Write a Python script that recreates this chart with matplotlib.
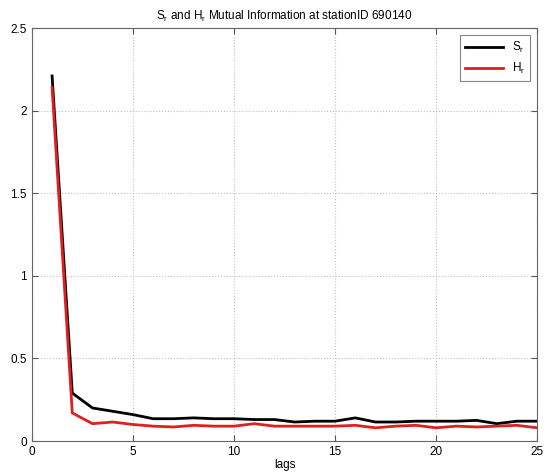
import matplotlib
matplotlib.use("Agg")
import matplotlib.pyplot as plt

plt.rcParams['font.family'] = ['Liberation Sans', 'DejaVu Sans']
plt.rcParams['mathtext.fontset'] = 'custom'
plt.rcParams['mathtext.rm'] = 'Liberation Sans'
plt.rcParams['mathtext.it'] = 'Liberation Sans'

lags = list(range(1, 26))
s_r = [2.21, 0.29, 0.20, 0.18, 0.16, 0.135, 0.135, 0.14, 0.135, 0.135, 0.13, 0.13,
       0.115, 0.12, 0.12, 0.14, 0.115, 0.115, 0.12, 0.12, 0.12, 0.125, 0.105, 0.12, 0.12]
h_r = [2.14, 0.17, 0.105, 0.115, 0.10, 0.09, 0.085, 0.095, 0.09, 0.09, 0.105, 0.09,
       0.09, 0.09, 0.09, 0.095, 0.08, 0.09, 0.095, 0.08, 0.09, 0.085, 0.09, 0.095, 0.08]

fig = plt.figure(figsize=(5.59, 4.76), dpi=100)
ax = fig.add_axes([0.057, 0.0735, 0.904, 0.8675])

ax.plot(lags, s_r, color='black', lw=2.0, label='S$_r$')
ax.plot(lags, h_r, color='#e02020', lw=2.0, label='H$_r$')

ax.set_xlim(0, 25)
ax.set_ylim(0, 2.5)
ax.set_xticks([0, 5, 10, 15, 20, 25])
ax.set_yticks([0, 0.5, 1, 1.5, 2, 2.5])
ax.set_yticklabels(['0', '0.5', '1', '1.5', '2', '2.5'])
ax.grid(True, color='#c0c0c0', ls=':', lw=0.8)
ax.tick_params(direction='in', labelsize=8.5, length=4, top=True, right=True, color='#555555')
for sp in ax.spines.values():
    sp.set_color('#666666')

ax.set_xlabel('lags', fontsize=8.5, labelpad=1)
ax.set_title('S$_r$ and H$_r$ Mutual Information at stationID 690140', fontsize=8.5, pad=6)

leg = ax.legend(loc='upper right', fontsize=8.5, fancybox=False, edgecolor='#666666',
                handlelength=3.2, borderaxespad=0.6)
leg.get_frame().set_linewidth(0.8)

fig.savefig('out.png', dpi=100)
